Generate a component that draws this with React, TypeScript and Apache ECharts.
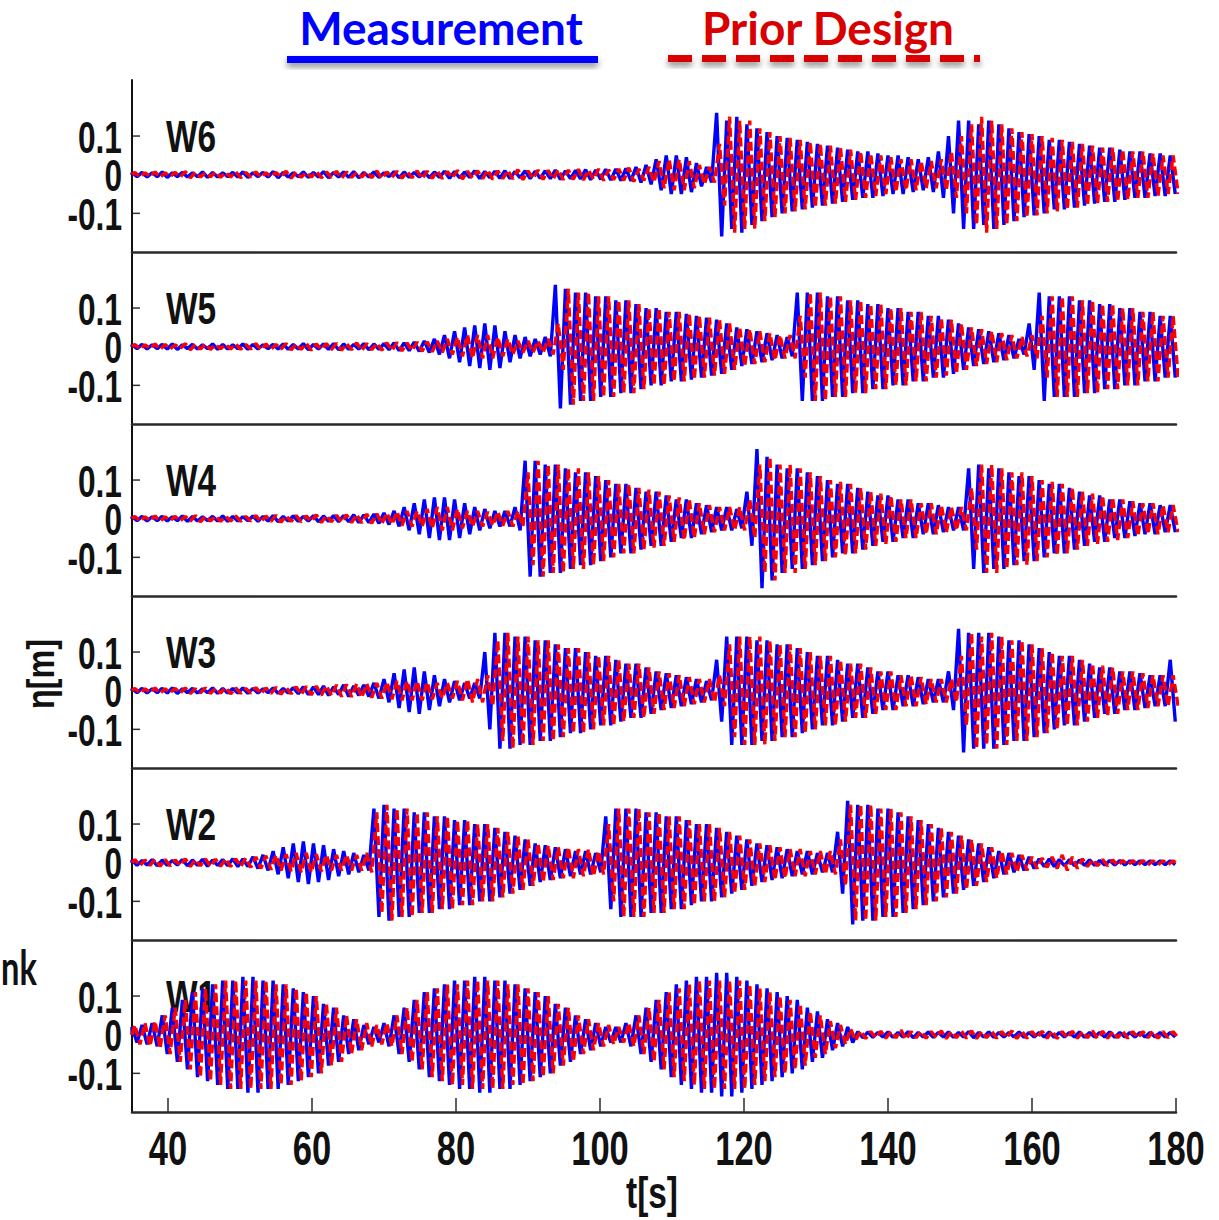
import React, { useEffect, useRef } from "react";
import * as echarts from "echarts";

// Wave gauges, top panel first
const GAUGES = ["W6", "W5", "W4", "W3", "W2", "W1"];

// Crest amplitude per wave cycle [cm], one entry per cycle from t = 35 s
const W6_MEASURED = [
  0.5, 0.6, 0.5, 0.7, 0.5, 0.6, 0.5, 0.7, 0.6, 0.5,
  0.6, 0.7, 0.5, 0.6, 0.8, 0.6, 0.5, 0.7, 0.6, 0.8,
  0.6, 0.7, 0.8, 0.6, 0.7, 0.5, 0.8, 0.7, 0.6, 0.8,
  0.7, 0.9, 0.8, 0.7, 1, 0.8, 0.9, 1, 0.8, 1,
  0.9, 1, 1.2, 1, 1.1, 1.3, 1.2, 1.4, 1.5, 1.6,
  2, 2.5, 4, 5, 5, 4.5, 3, 2, 16, 14,
  15, 13, 12, 11, 10, 9.5, 9, 8.5, 8, 7.5,
  7, 6.5, 6, 6, 5.5, 5, 5, 4.5, 4, 4.5,
  6, 10, 14, 14, 13, 14, 13, 12, 11, 10.5,
  10, 9, 9, 8.5, 8, 7.5, 7, 7, 6.5, 6,
  6, 5.5, 5.5, 5,
];
const W6_PRIOR = [
  0.6, 0.5, 0.7, 0.5, 0.6, 0.8, 0.6, 0.5, 0.7, 0.6,
  0.8, 0.6, 0.7, 0.5, 0.6, 0.9, 0.7, 0.6, 0.8, 0.7,
  0.9, 0.7, 0.6, 0.8, 1, 0.7, 0.9, 0.8, 1, 0.9,
  1, 0.8, 1.1, 0.9, 1, 1.2, 1, 1.1, 1.3, 1,
  1.2, 1.1, 1.3, 1.2, 1.4, 1.2, 1.5, 1.3, 1.5, 1.8,
  1.5, 2, 3.5, 4, 4, 3.5, 2.5, 2, 8, 15,
  14, 14, 12, 11, 10, 9.5, 9, 8.5, 8, 7.5,
  7, 6.5, 6, 5.5, 5, 4.5, 4, 4, 3.5, 3.5,
  4, 6, 10, 13, 15, 14, 13, 12, 11, 10.5,
  10, 9.5, 9, 8.5, 8, 7.5, 7, 7, 6.5, 6,
  6, 5.5, 5, 5,
];
const W5_MEASURED = [
  0.5, 0.6, 0.5, 0.6, 0.7, 0.5, 0.6, 0.5, 0.7, 0.6,
  0.5, 0.7, 0.6, 0.5, 0.6, 0.7, 0.6, 0.8, 0.6, 0.7,
  0.8, 0.7, 0.6, 0.8, 0.7, 0.8, 1, 1, 1.2, 1.5,
  2, 3, 4, 5, 5.5, 6, 5.5, 4, 3, 2.5,
  2, 2.5, 16, 15, 14, 14, 13, 13, 12, 12,
  11, 10, 10, 9, 9, 8.5, 8, 7.5, 7, 6,
  5, 4.5, 4, 3.5, 3, 2.5, 14, 14, 14, 13,
  13, 12, 12, 11, 11, 10, 10, 9, 9, 8,
  8, 7, 6, 5, 4.5, 4, 3.5, 3, 2, 6,
  14, 13, 13, 13, 12, 12, 11, 11, 10, 10,
  9, 9, 8, 8,
];
const W5_PRIOR = [
  0.6, 0.5, 0.7, 0.6, 0.5, 0.8, 0.6, 0.7, 0.5, 0.6,
  0.7, 0.6, 0.8, 0.7, 0.6, 0.8, 0.7, 0.9, 0.7, 0.8,
  0.9, 0.8, 1, 0.8, 0.9, 1, 1.1, 1, 1.2, 1.3,
  1.5, 2, 2.5, 3, 3, 3, 2.5, 2, 1.5, 1.5,
  1.5, 2, 6, 15, 14, 14, 13, 13, 12, 12,
  11, 10, 10, 9, 9, 8.5, 8, 7.5, 7, 6,
  5, 4.5, 4, 3.5, 3, 3, 8, 14, 14, 13,
  13, 12, 12, 11, 11, 10, 10, 9, 9, 8,
  7.5, 7, 6, 5, 4.5, 4, 3.5, 3, 2.5, 3,
  8, 13, 13, 13, 12, 12, 11, 11, 10, 10,
  9, 9, 8, 8,
];
const W4_MEASURED = [
  0.5, 0.6, 0.5, 0.6, 0.5, 0.7, 0.6, 0.5, 0.6, 0.7,
  0.6, 0.5, 0.7, 0.6, 0.8, 0.6, 0.7, 0.6, 0.8, 0.7,
  0.8, 0.8, 1, 1, 1.2, 1.5, 2, 3, 4, 5,
  5.5, 5.5, 5, 4, 3, 2.5, 2, 2, 3, 15,
  15, 14, 14, 13, 12, 12, 11, 10, 9, 9,
  8, 7, 7, 6, 5, 5, 4, 3.5, 3, 3,
  2.5, 7, 18, 16, 14, 13, 13, 12, 11, 10,
  9, 9, 8, 7, 6, 6, 5, 5, 4, 4,
  3.5, 3, 3, 13, 14, 13, 13, 12, 11, 11,
  10, 9, 9, 8, 7, 6, 6, 5, 5, 4.5,
  4, 4, 3.5, 3.5,
];
const W4_PRIOR = [
  0.6, 0.5, 0.7, 0.5, 0.6, 0.6, 0.8, 0.6, 0.7, 0.6,
  0.7, 0.6, 0.8, 0.7, 0.9, 0.7, 0.8, 0.7, 1, 0.8,
  0.9, 1, 1.1, 1.2, 1.3, 1.5, 1.8, 2, 2, 2.5,
  3, 3, 2.5, 2, 2, 1.8, 1.8, 2, 2, 12,
  15, 14, 14, 13, 13, 12, 11, 10, 9, 9,
  8, 7.5, 7, 6, 5.5, 5, 4, 3.5, 3, 3,
  3, 5, 14, 16, 14, 14, 13, 12, 11, 10,
  9.5, 9, 8, 7, 6.5, 6, 5, 5, 4, 4,
  3.5, 3, 3, 8, 14, 14, 13, 12, 12, 11,
  10, 9.5, 9, 8, 7, 6.5, 6, 5.5, 5, 4.5,
  4, 4, 3.5, 3.5,
];
const W3_MEASURED = [
  0.5, 0.6, 0.5, 0.6, 0.7, 0.5, 0.6, 0.5, 0.7, 0.6,
  0.6, 0.7, 0.6, 0.5, 0.7, 0.6, 0.8, 1, 1, 1.2,
  1, 1.5, 1.2, 1.5, 2, 3, 4.5, 5.5, 6, 5,
  4, 3, 2.5, 2, 2, 10, 15, 15, 14, 14,
  13, 13, 12, 11, 11, 10, 9, 9, 8, 7,
  7, 6, 5, 4.5, 4, 3.5, 3, 2.5, 8, 14,
  14, 14, 13, 13, 12, 12, 11, 10, 9, 9,
  8, 7, 7, 6, 5, 5, 4, 4, 3.5, 3,
  3, 5, 16, 15, 15, 15, 14, 13, 13, 12,
  11, 10, 9, 9, 8, 7, 6, 6, 5, 5,
  4.5, 4, 4, 8,
];
const W3_PRIOR = [
  0.6, 0.5, 0.7, 0.5, 0.6, 0.7, 0.5, 0.7, 0.6, 0.8,
  0.7, 0.6, 0.8, 0.7, 0.9, 0.8, 1, 1.1, 1.2, 1.3,
  1.5, 1.6, 1.8, 1.8, 2, 2.2, 2.5, 2.5, 2.5, 2.2,
  2, 2, 2.5, 3, 3, 4, 13, 15, 14, 14,
  13, 13, 12, 11, 11, 10, 9, 9, 8, 7,
  7, 6, 5, 4.5, 4, 3.5, 3, 3, 4, 12,
  14, 14, 14, 13, 12, 12, 11, 10, 9, 9,
  8, 7, 7, 6, 5, 5, 4, 4, 3.5, 3,
  3, 3, 9, 15, 14, 15, 14, 13, 13, 12,
  11, 10, 9, 9, 8, 7, 6.5, 6, 5, 5,
  4.5, 4, 4, 4,
];
const W2_MEASURED = [
  0.7, 0.6, 0.8, 0.7, 0.6, 0.8, 0.7, 0.9, 0.7, 0.8,
  1, 1, 1.5, 2, 3, 4, 5, 5.5, 5, 4.5,
  3.5, 3, 2.5, 2, 14, 15, 14, 14, 13, 13,
  12, 12, 11, 11, 10, 10, 9, 8, 7, 6,
  5, 4.5, 4, 3.5, 3, 3, 2.5, 12, 14, 14,
  14, 13, 13, 12, 12, 11, 10, 10, 9, 8,
  7, 6, 5, 4.5, 4, 3.5, 3, 3, 2.5, 2.5,
  8, 16, 15, 15, 14, 14, 13, 12, 11, 10,
  9, 8, 7, 6, 5, 4, 3, 2.5, 2, 1.5,
  1, 1, 0.8, 0.8, 0.7, 0.7, 0.6, 0.6, 0.6, 0.5,
  0.5, 0.5, 0.5, 0.5,
];
const W2_PRIOR = [
  0.8, 0.7, 0.9, 0.8, 0.7, 1, 0.8, 1, 0.9, 1,
  1, 1.2, 1.5, 1.8, 2, 2.2, 2.5, 2.5, 2.2, 2,
  2, 2, 2, 2.5, 13, 15, 14, 14, 13, 13,
  12, 12, 11, 11, 10, 10, 9, 8, 7, 6,
  5, 4.5, 4, 4, 3.5, 3.5, 3, 10, 14, 14,
  14, 13, 13, 12, 12, 11, 10, 10, 9, 8,
  7, 6, 5, 4.5, 4, 3.5, 3.5, 3, 3, 3,
  6, 15, 15, 15, 14, 14, 13, 12, 11, 10,
  9, 8, 7, 6, 5, 4, 3, 2.5, 2, 1.5,
  1.2, 1.5, 2, 1.5, 1, 0.8, 0.8, 0.7, 0.6, 0.6,
  0.6, 0.5, 0.5, 0.5,
];
const W1_MEASURED = [
  2, 2.5, 3, 5, 7, 9, 11, 12, 13, 14,
  14, 15, 15, 14, 14, 13, 12, 11, 10, 8,
  7, 5, 4, 2.5, 2, 3, 5, 7, 9, 11,
  12, 13, 14, 14, 15, 15, 14, 14, 13, 12,
  11, 10, 8, 7, 5, 4, 3, 2, 2, 3,
  5, 7, 9, 11, 13, 14, 15, 15, 16, 16,
  15, 14, 13, 12, 11, 10, 9, 7, 6, 4,
  3, 2, 0.8, 0.7, 0.6, 0.7, 0.6, 0.8, 0.6, 0.7,
  0.6, 0.7, 0.6, 0.8, 0.6, 0.7, 0.6, 0.6, 0.7, 0.6,
  0.6, 0.7, 0.6, 0.6, 0.7, 0.6, 0.6, 0.7, 0.6, 0.6,
  0.6, 0.6, 0.6, 0.6,
];
const W1_PRIOR = [
  2.5, 3, 3.5, 5, 7, 9, 11, 12, 13, 14,
  14, 14, 14, 14, 13, 13, 12, 11, 10, 8,
  7, 5, 4, 3, 2.5, 3, 5, 7, 9, 11,
  12, 13, 13, 14, 14, 14, 14, 13, 13, 12,
  11, 10, 8, 7, 5, 4, 3, 2.5, 2, 3,
  5, 7, 9, 11, 12, 13, 14, 14, 14, 14,
  14, 13, 12, 11, 10, 9, 8, 6, 5, 3.5,
  2.5, 1.5, 1, 0.8, 0.9, 0.8, 1.2, 0.8, 0.9, 0.8,
  1, 0.8, 0.9, 1, 0.8, 0.9, 0.8, 1, 0.9, 0.8,
  0.9, 1, 0.8, 0.9, 0.8, 1, 0.9, 0.8, 0.9, 0.8,
  0.8, 0.9, 0.8, 0.8,
];

const MEASURED = [W6_MEASURED, W5_MEASURED, W4_MEASURED, W3_MEASURED, W2_MEASURED, W1_MEASURED];
const PRIOR = [W6_PRIOR, W5_PRIOR, W4_PRIOR, W3_PRIOR, W2_PRIOR, W1_PRIOR];

const X_TICKS = [40, 60, 80, 100, 120, 140, 160, 180];
const Y_TICKS = [-0.1, 0, 0.1];
const Y_TICK_LABELS = ["-0.1", "0", "0.1"];
const T_MIN = 35;
const T_MAX = 180;
const ETA_MIN = -0.2;
const ETA_MAX = 0.245;
const WAVE_PERIOD = 1.4; // s
const PRIOR_LAG = 0.4; // s

const BLUE = "#0000ff";
const RED = "#ff0000";
const LEGEND_RED = "#d80000";
const SANS = "'Liberation Sans',Arial,sans-serif";
const CALIBRI_LIKE = "Lato,'Open Sans',sans-serif";
const NARROW_SCALE = 0.72; // horizontal squeeze of the condensed axis lettering

// Crest/trough sequence of a record: one crest and one trough per cycle
function waveTrace(ampsCm: number[], lag: number): number[][] {
  const pts: number[][] = [[T_MIN, 0]];
  ampsCm.forEach((a, k) => {
    const t = T_MIN + lag + k * WAVE_PERIOD;
    pts.push([t, a / 100]);
    pts.push([t + WAVE_PERIOD / 2, -a / 100]);
  });
  return pts;
}

const PANEL_TOP = 80;
const PANEL_H = 172;
const PLOT_LEFT = 132;
const PLOT_RIGHT = 43;

function narrowText(text: string, x: number, y: number, size: number, align: string, extra: any = {}) {
  return {
    type: "text",
    x,
    y,
    scaleX: NARROW_SCALE,
    z: 0,
    style: {
      text,
      fill: "#111",
      font: `bold ${size}px ${SANS}`,
      textAlign: align,
      textVerticalAlign: "middle",
    },
    ...extra,
  };
}

export default function App() {
  const ref = useRef<HTMLDivElement>(null);

  useEffect(() => {
    document.body.style.margin = "0";
    const chart = echarts.init(ref.current!, null, { renderer: "svg" });
    const n = GAUGES.length;

    const grid = GAUGES.map((_, i) => ({
      left: PLOT_LEFT,
      right: PLOT_RIGHT,
      top: PANEL_TOP + i * PANEL_H,
      height: PANEL_H,
    }));

    const xAxis = GAUGES.map((_, i) => {
      const last = i === n - 1;
      return {
        type: "value",
        gridIndex: i,
        min: T_MIN,
        max: T_MAX,
        position: "bottom",
        splitLine: { show: false },
        axisLine: { show: true, onZero: false, lineStyle: { color: "#2a2a2a", width: 2.5 } },
        axisTick: {
          show: last,
          inside: true,
          length: 14,
          customValues: X_TICKS,
          lineStyle: { color: "#2a2a2a", width: 1.5 },
        },
        axisLabel: { show: false },
      };
    });

    const yAxis = GAUGES.map((_, i) => ({
      type: "value",
      gridIndex: i,
      min: ETA_MIN,
      max: ETA_MAX,
      splitLine: { show: false },
      axisLine: { show: true, lineStyle: { color: "#111", width: 2 } },
      axisTick: { show: false },
      axisLabel: { show: false },
    }));

    const series: any[] = [];
    GAUGES.forEach((name, i) => {
      series.push({
        name: `${name} Measurement`,
        type: "line",
        xAxisIndex: i,
        yAxisIndex: i,
        data: waveTrace(MEASURED[i], 0),
        showSymbol: false,
        symbol: "none",
        lineStyle: { color: BLUE, width: 3.4 },
        z: 2,
      });
      series.push({
        name: `${name} Prior Design`,
        type: "line",
        xAxisIndex: i,
        yAxisIndex: i,
        data: waveTrace(PRIOR[i], PRIOR_LAG),
        showSymbol: false,
        symbol: "none",
        lineStyle: { color: RED, width: 3.4, type: [9, 4] },
        z: 3,
      });
    });

    chart.setOption({
      animation: false,
      backgroundColor: "#ffffff",
      grid,
      xAxis,
      yAxis,
      series,
    });

    // Tick marks and tick labels placed from the axes' own scales
    const axisMarks: any[] = [];
    GAUGES.forEach((name, i) => {
      Y_TICKS.forEach((v, j) => {
        const [px, py] = chart.convertToPixel({ gridIndex: i }, [T_MIN, v]) as number[];
        axisMarks.push({
          type: "line",
          shape: { x1: px, y1: py, x2: px + 8, y2: py },
          style: { stroke: "#333", lineWidth: 1.5 },
        });
        axisMarks.push(narrowText(Y_TICK_LABELS[j], px - 10, py + 1, 44, "right"));
      });
      const [, topY] = chart.convertToPixel({ gridIndex: i }, [T_MIN, 0.1]) as number[];
      axisMarks.push(narrowText(name, 166, topY + 1, 44, "left", { scaleX: 0.76 }));
    });
    X_TICKS.forEach((v) => {
      const [px, py] = chart.convertToPixel({ gridIndex: n - 1 }, [v, ETA_MIN]) as number[];
      axisMarks.push(narrowText(String(v), px, py + 36, 48, "center"));
    });

    // Legend bars: solid bar for the measurement, dashed bar for the prior design
    const legendShadow = { shadowBlur: 6, shadowColor: "rgba(0,0,0,0.45)", shadowOffsetY: 4 };
    const legendBars: any[] = [
      {
        type: "rect",
        shape: { x: 287, y: 56, width: 311, height: 7 },
        style: { fill: BLUE, ...legendShadow },
      },
    ];
    for (let x = 668; x < 980; x += 34) {
      legendBars.push({
        type: "rect",
        shape: { x, y: 55, width: Math.min(24, 980 - x), height: 7 },
        style: { fill: LEGEND_RED, ...legendShadow },
      });
    }

    chart.setOption({
      graphic: [
        ...axisMarks,
        ...legendBars,
        {
          type: "text",
          x: 441,
          y: 27,
          style: {
            text: "Measurement",
            fill: BLUE,
            font: `bold 46px ${CALIBRI_LIKE}`,
            textAlign: "center",
            textVerticalAlign: "middle",
          },
        },
        {
          type: "text",
          x: 828,
          y: 27,
          style: {
            text: "Prior Design",
            fill: LEGEND_RED,
            font: `bold 46px ${CALIBRI_LIKE}`,
            textAlign: "center",
            textVerticalAlign: "middle",
          },
        },
        {
          type: "text",
          x: 1,
          y: 966,
          scaleX: 0.68,
          style: {
            text: "nk",
            fill: "#111",
            font: `bold 48px ${CALIBRI_LIKE}`,
            textAlign: "left",
            textVerticalAlign: "middle",
          },
        },
        {
          type: "text",
          x: 41,
          y: 674,
          rotation: Math.PI / 2,
          scaleX: 0.85,
          style: {
            text: "η[m]",
            fill: "#111",
            font: `bold 38px ${SANS}`,
            textAlign: "center",
            textVerticalAlign: "middle",
          },
        },
        narrowText("t[s]", 652, 1193, 44, "center", { scaleX: 0.76 }),
      ],
    });

    return () => chart.dispose();
  }, []);

  return <div ref={ref} style={{ width: 1219, height: 1220 }} />;
}
